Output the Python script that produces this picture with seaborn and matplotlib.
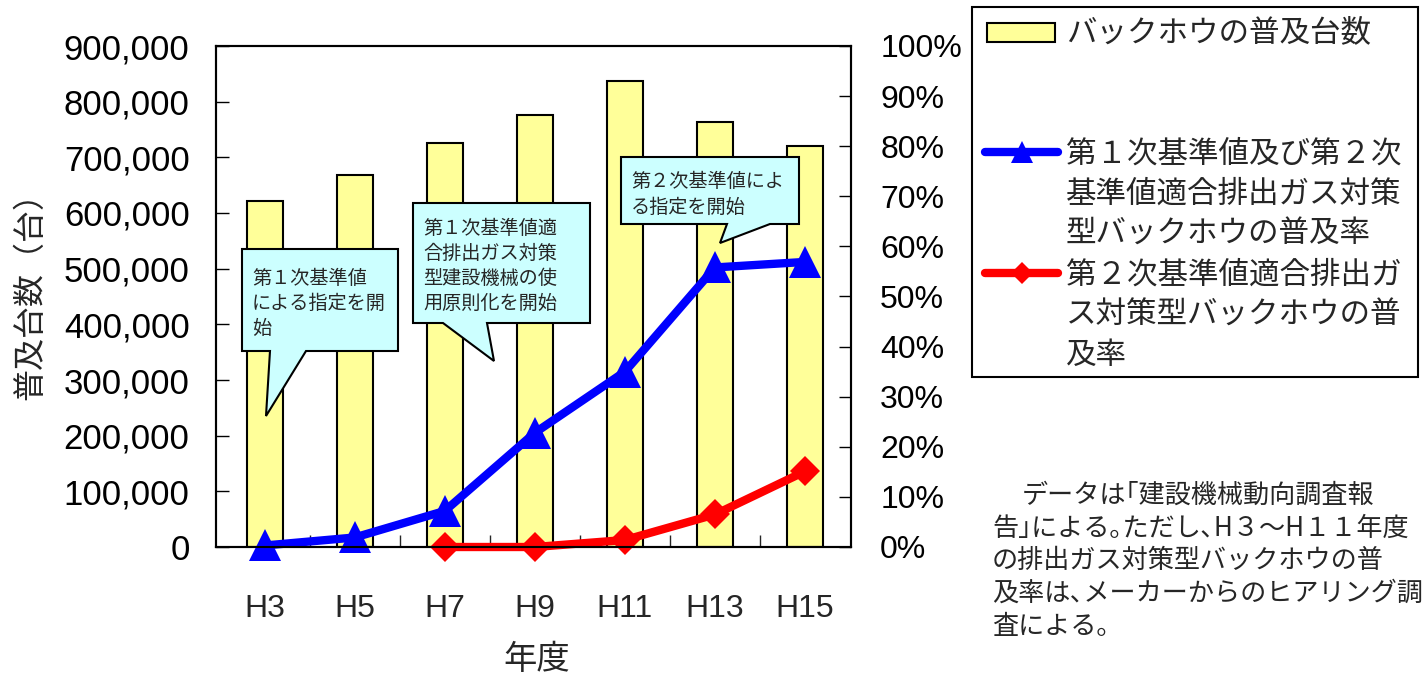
import numpy as np
import pandas as pd
import matplotlib
matplotlib.use("Agg")
import matplotlib.pyplot as plt
from matplotlib.patches import Polygon, Rectangle
from matplotlib.lines import Line2D
import seaborn as sns

# data
years = ["H3", "H5", "H7", "H9", "H11", "H13", "H15"]
units = [622000, 668000, 726000, 776000, 838000, 763000, 720000]
rate_total = [0.3, 1.9, 7.2, 22.8, 35.0, 55.8, 56.9]
rate_2nd = [np.nan, np.nan, 0.0, 0.0, 1.4, 6.5, 15.1]

left_ticks = list(range(0, 900001, 100000))
right_ticks = list(range(0, 101, 10))

bar_label = "バックホウの普及台数"
total_label = ["第１次基準値及び第２次", "基準値適合排出ガス対策", "型バックホウの普及率"]
second_label = ["第２次基準値適合排出ガ", "ス対策型バックホウの普", "及率"]

callout_texts = [
    ["第１次基準値", "による指定を開", "始"],
    ["第１次基準値適", "合排出ガス対策", "型建設機械の使", "用原則化を開始"],
    ["第２次基準値によ", "る指定を開始"],
]
note_lines = [
    "データは｢建設機械動向調査報",
    "告｣による｡ただし､H３～H１１年度",
    "の排出ガス対策型バックホウの普",
    "及率は､メーカーからのヒアリング調",
    "査による｡",
]

BAR_COLOR = "#FFFF99"
BOX_COLOR = "#CCFFFF"

sns.set_style("white")
plt.rcParams["font.family"] = ["Liberation Sans", "Noto Sans CJK JP", "DejaVu Sans"]
JP = ["Noto Sans CJK JP", "DejaVu Sans"]

W, H = 1428, 677


def P(x, y):
    return (x / W, 1 - y / H)


fig = plt.figure(figsize=(W / 100, H / 100), dpi=100)
ax = fig.add_axes([216 / W, 1 - 547 / H, (851 - 216) / W, (547 - 46) / H])

sns.barplot(x=years, y=units, ax=ax, color=BAR_COLOR, saturation=1,
            edgecolor="black", linewidth=1.5, width=0.4)
ax.set_ylim(0, 900000)
ax.set_yticks(left_ticks)
ax.set_yticklabels([f"{v:,}" for v in left_ticks])
ax.tick_params(axis="y", direction="in", length=9, width=1, pad=19,
               labelsize=25, left=True, colors="black")
ax.set_xticks(range(len(years)))
ax.set_xticklabels(years)
ax.set_xticks(np.arange(0.5, len(years) - 1, 1), minor=True)
ax.tick_params(axis="x", which="major", length=0, pad=34, labelsize=23)
ax.tick_params(axis="x", which="minor", direction="in", length=9, width=1,
               bottom=True)
ax.set_xlabel("")
ax.set_ylabel("")

ax2 = ax.twinx()
pos = np.arange(len(years))
df = pd.DataFrame({"pos": pos, "total": rate_total, "second": rate_2nd})
sns.lineplot(data=df, x="pos", y="total", ax=ax2, color="blue", linewidth=6,
             marker="^", markersize=23, markeredgecolor="blue",
             markeredgewidth=0, clip_on=False, solid_joinstyle="round",
             solid_capstyle="round")
sns.lineplot(data=df, x="pos", y="second", ax=ax2, color="red", linewidth=6,
             marker="D", markersize=15, markeredgecolor="red",
             markeredgewidth=0, clip_on=False, solid_joinstyle="round",
             solid_capstyle="round")
ax2.set_ylim(0, 100)
ax2.set_yticks(right_ticks)
ax2.set_yticklabels([f"{v}%" for v in right_ticks])
ax2.tick_params(axis="y", direction="in", length=9, width=1, pad=21,
                labelsize=23, right=True, colors="black")
ax2.set_ylabel("")
ax2.set_xlabel("")
ax.set_xlim(-0.54, 6.51)

for a in (ax, ax2):
    for s in a.spines.values():
        s.set_color("black")
        s.set_linewidth(1.5)
    a.spines["top"].set_visible(True)

# axis titles
fig.text(*P(30, 288), "普及台数（台）", rotation=90, ha="center", va="center",
         fontsize=23, family=JP)
fig.text(*P(537, 660), "年度", ha="center", va="center", fontsize=24, family=JP)

# speech-bubble callouts
bubbles = [
    [(242, 249), (398, 249), (398, 351), (306, 351), (266, 416), (270, 351), (242, 351)],
    [(413, 203), (590, 203), (590, 323), (487, 323), (494, 361), (443, 323), (413, 323)],
    [(621, 157), (799, 157), (799, 224), (770, 224), (720, 243), (727, 224), (621, 224)],
]
text_starts = [(252, 278), (423, 228), (631, 182)]
for verts, lines, (tx, ty) in zip(bubbles, callout_texts, text_starts):
    fig.add_artist(Polygon([P(*v) for v in verts], closed=True,
                           transform=fig.transFigure, facecolor=BOX_COLOR,
                           edgecolor="black", linewidth=1.5, joinstyle="miter"))
    for i, line in enumerate(lines):
        fig.text(*P(tx, ty + i * 25), line, ha="left", va="center",
                 fontsize=13.8, family=JP)

# legend drawn by hand so handles sit on the first text line
fig.add_artist(Rectangle(P(972, 377), (1418 - 972) / W, (377 - 7) / H,
                         transform=fig.transFigure, facecolor="white",
                         edgecolor="black", linewidth=1.5))
fig.add_artist(Rectangle(P(987, 42), (1055 - 987) / W, (42 - 23) / H,
                         transform=fig.transFigure, facecolor=BAR_COLOR,
                         edgecolor="black", linewidth=1.5))
fig.text(*P(1066, 33), bar_label, ha="left", va="center", fontsize=22, family=JP)

for ly, color, mk, ms, lines in [(152, "blue", "^", 16, total_label),
                                 (273, "red", "D", 11.5, second_label)]:
    x0, y0 = P(985, ly)
    x1, _ = P(1058, ly)
    fig.add_artist(Line2D([x0, x1], [y0, y0], transform=fig.transFigure,
                          color=color, linewidth=6, solid_capstyle="round"))
    xm, _ = P(1022, ly)
    fig.add_artist(Line2D([xm], [y0], transform=fig.transFigure, color=color,
                          marker=mk, markersize=ms, markeredgewidth=0,
                          linestyle="none"))
    for i, line in enumerate(lines):
        fig.text(*P(1066, ly + 2 + i * 40), line, ha="left", va="center",
                 fontsize=22, family=JP)

# source note
note_y = [495, 528, 560, 593, 627]
for i, line in enumerate(note_lines):
    x = 1022 if i == 0 else 992
    fig.text(*P(x, note_y[i]), line, ha="left", va="center",
             fontsize=18.8, family=JP)

fig.savefig("out.png", dpi=100)
plt.close(fig)
